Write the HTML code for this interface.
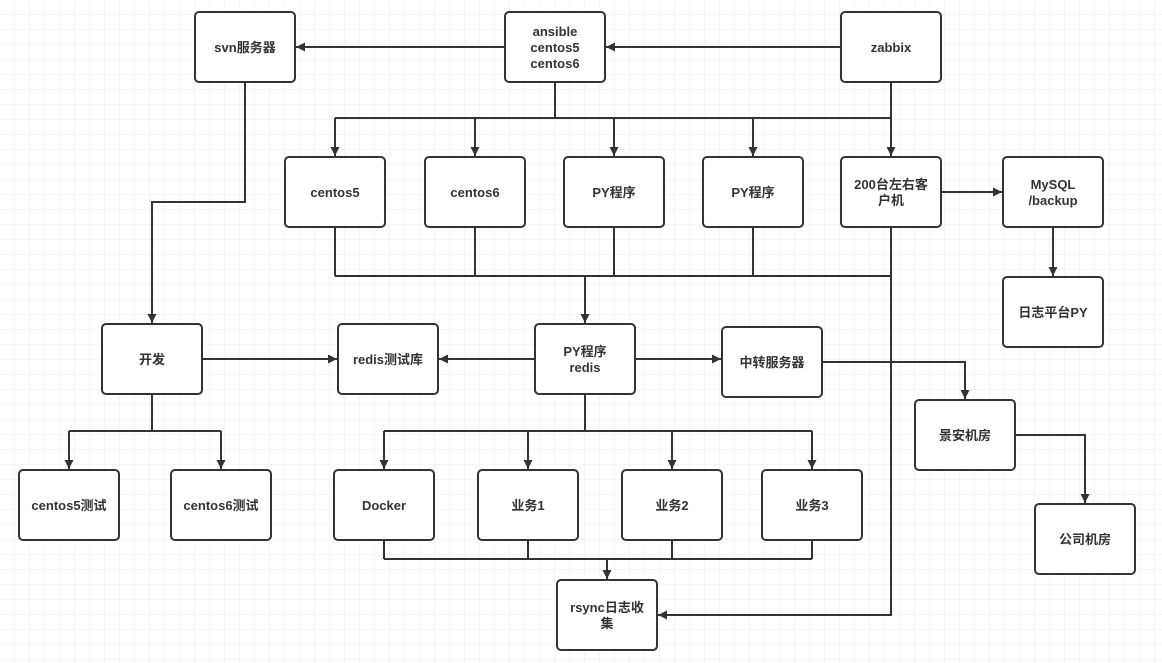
<!DOCTYPE html>
<html><head><meta charset="utf-8"><style>
html,body{margin:0;padding:0;background:#fff;}
svg{display:block;}
text{font-family:"Liberation Sans","Noto Sans CJK SC",sans-serif;font-size:13px;font-weight:bold;fill:#333;text-anchor:middle;}
</style></head><body>
<svg width="1162" height="663" viewBox="0 0 1162 663" xmlns="http://www.w3.org/2000/svg">
<defs>
<pattern id="g" width="15" height="15" patternUnits="userSpaceOnUse"><path d="M15 0V15M0 15H15" fill="none" stroke="#ebebeb" stroke-width="1"/></pattern>
<marker id="a" viewBox="0 0 10 10" refX="10" refY="5" markerWidth="9" markerHeight="9" markerUnits="userSpaceOnUse" orient="auto"><path d="M0 0L10 5L0 10z" fill="#333"/></marker>
</defs>
<rect width="1162" height="663" fill="url(#g)"/>
<g fill="none" stroke="#333" stroke-width="2">
<path d="M841 47H606" marker-end="url(#a)"/>
<path d="M505 47H296" marker-end="url(#a)"/>
<path d="M555 82V118M335 118H891"/>
<path d="M891 82V156" marker-end="url(#a)"/>
<path d="M335 118V156" marker-end="url(#a)"/>
<path d="M475 118V156" marker-end="url(#a)"/>
<path d="M614 118V156" marker-end="url(#a)"/>
<path d="M753 118V156" marker-end="url(#a)"/>
<path d="M941 192H1002" marker-end="url(#a)"/>
<path d="M1053 227V276" marker-end="url(#a)"/>
<path d="M245 82V202H152V323" marker-end="url(#a)"/>
<path d="M335 227V276M475 227V276M614 227V276M753 227V276M335 276H891"/>
<path d="M585 276V323" marker-end="url(#a)"/>
<path d="M891 227V615H658" marker-end="url(#a)"/>
<path d="M202 359H337" marker-end="url(#a)"/>
<path d="M535 359H439" marker-end="url(#a)"/>
<path d="M635 359H721" marker-end="url(#a)"/>
<path d="M822 362H965V399" marker-end="url(#a)"/>
<path d="M1015 435H1085V503" marker-end="url(#a)"/>
<path d="M152 394V431M69 431H221"/>
<path d="M69 431V469" marker-end="url(#a)"/>
<path d="M221 431V469" marker-end="url(#a)"/>
<path d="M585 394V431M384 431H812"/>
<path d="M384 431V469" marker-end="url(#a)"/>
<path d="M528 431V469" marker-end="url(#a)"/>
<path d="M672 431V469" marker-end="url(#a)"/>
<path d="M812 431V469" marker-end="url(#a)"/>
<path d="M384 540V559M528 540V559M672 540V559M812 540V559M384 559H812"/>
<path d="M607 559V579" marker-end="url(#a)"/>
</g>
<g fill="#fff" stroke="#333" stroke-width="2">
<rect x="195" y="12" width="100" height="70" rx="4"/>
<rect x="505" y="12" width="100" height="70" rx="4"/>
<rect x="841" y="12" width="100" height="70" rx="4"/>
<rect x="285" y="157" width="100" height="70" rx="4"/>
<rect x="425" y="157" width="100" height="70" rx="4"/>
<rect x="564" y="157" width="100" height="70" rx="4"/>
<rect x="703" y="157" width="100" height="70" rx="4"/>
<rect x="841" y="157" width="100" height="70" rx="4"/>
<rect x="1003" y="157" width="100" height="70" rx="4"/>
<rect x="1003" y="277" width="100" height="70" rx="4"/>
<rect x="102" y="324" width="100" height="70" rx="4"/>
<rect x="338" y="324" width="100" height="70" rx="4"/>
<rect x="535" y="324" width="100" height="70" rx="4"/>
<rect x="722" y="327" width="100" height="70" rx="4"/>
<rect x="915" y="400" width="100" height="70" rx="4"/>
<rect x="1035" y="504" width="100" height="70" rx="4"/>
<rect x="19" y="470" width="100" height="70" rx="4"/>
<rect x="171" y="470" width="100" height="70" rx="4"/>
<rect x="334" y="470" width="100" height="70" rx="4"/>
<rect x="478" y="470" width="100" height="70" rx="4"/>
<rect x="622" y="470" width="100" height="70" rx="4"/>
<rect x="762" y="470" width="100" height="70" rx="4"/>
<rect x="557" y="580" width="100" height="70" rx="4"/>
</g>
<text x="245" y="52">svn服务器</text>
<text x="555" y="36">ansible</text><text x="555" y="52">centos5</text><text x="555" y="68">centos6</text>
<text x="891" y="52">zabbix</text>
<text x="335" y="197">centos5</text>
<text x="475" y="197">centos6</text>
<text x="614" y="197">PY程序</text>
<text x="753" y="197">PY程序</text>
<text x="891" y="189">200台左右客</text><text x="891" y="205">户机</text>
<text x="1053" y="189">MySQL</text><text x="1053" y="205">/backup</text>
<text x="1053" y="317">日志平台PY</text>
<text x="152" y="364">开发</text>
<text x="388" y="364">redis测试库</text>
<text x="585" y="356">PY程序</text><text x="585" y="372">redis</text>
<text x="772" y="367">中转服务器</text>
<text x="965" y="440">景安机房</text>
<text x="1085" y="544">公司机房</text>
<text x="69" y="510">centos5测试</text>
<text x="221" y="510">centos6测试</text>
<text x="384" y="510">Docker</text>
<text x="528" y="510">业务1</text>
<text x="672" y="510">业务2</text>
<text x="812" y="510">业务3</text>
<text x="607" y="612">rsync日志收</text><text x="607" y="628">集</text>
</svg>
</body></html>
